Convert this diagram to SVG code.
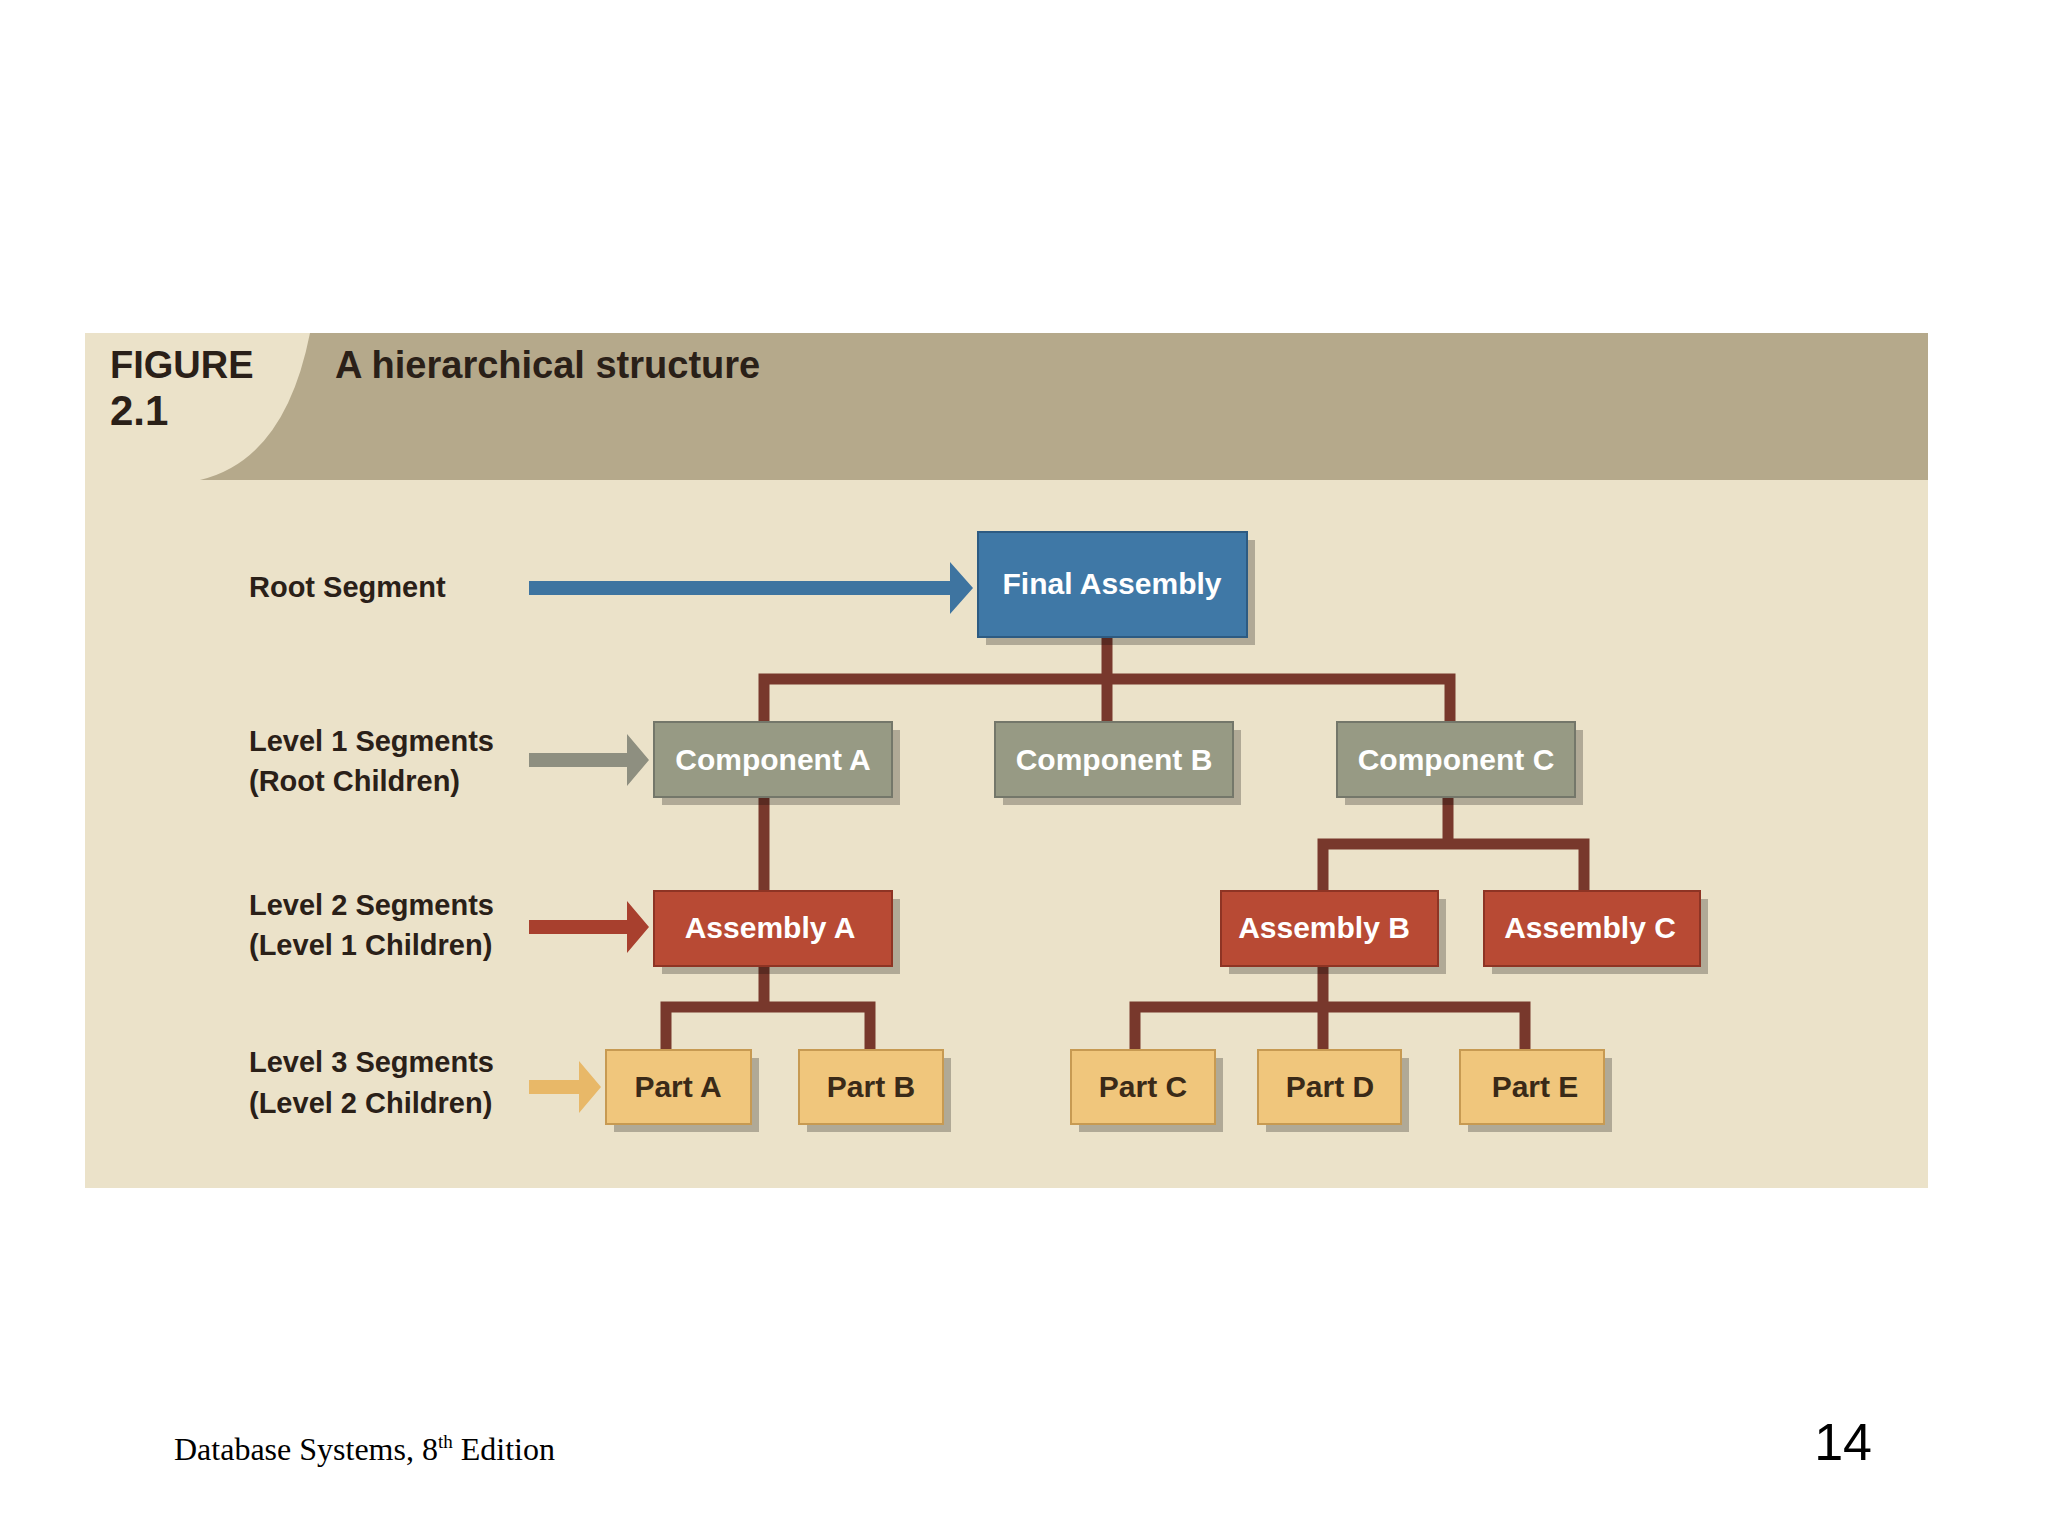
<svg xmlns="http://www.w3.org/2000/svg" width="2048" height="1536" viewBox="0 0 2048 1536">
<style>
.lbl{font-family:"Liberation Sans",Arial,sans-serif;font-size:29px;font-weight:bold;fill:#2a2018}
.bt{font-family:"Liberation Sans",Arial,sans-serif;font-size:30px;font-weight:bold;fill:#fff;text-anchor:middle}
.pt{font-family:"Liberation Sans",Arial,sans-serif;font-size:30px;font-weight:bold;fill:#3a2a18;text-anchor:middle}
.sh{fill:#000;opacity:0.25}
.con{stroke:#78382c;stroke-width:11;fill:none;stroke-linejoin:miter}
</style>
<rect width="2048" height="1536" fill="#fff"/>
<rect x="85" y="333" width="1843" height="855" fill="#ebe2c9"/>
<path d="M310 333 H1928 V480 H200 Q285 460 310 333 Z" fill="#b5a98b"/>
<text x="110" y="378" font-family="Liberation Sans,Arial,sans-serif" font-size="38" font-weight="bold" fill="#2a2018">FIGURE</text>
<text x="110" y="425" font-family="Liberation Sans,Arial,sans-serif" font-size="42" font-weight="bold" fill="#2a2018">2.1</text>
<text x="335" y="378" font-family="Liberation Sans,Arial,sans-serif" font-size="38" font-weight="bold" fill="#2a2018">A hierarchical structure</text>

<g id="labels">
<text class="lbl" x="249" y="597">Root Segment</text>
<text class="lbl" x="249" y="751">Level 1 Segments</text>
<text class="lbl" x="249" y="791">(Root Children)</text>
<text class="lbl" x="249" y="915">Level 2 Segments</text>
<text class="lbl" x="249" y="955">(Level 1 Children)</text>
<text class="lbl" x="249" y="1072">Level 3 Segments</text>
<text class="lbl" x="249" y="1113">(Level 2 Children)</text>
</g>

<g id="level-arrows">
<path d="M529 581 H950 V562 L973 588 L950 614 V595 H529 Z" fill="#3e74a0"/>
<path d="M529 753 H627 V734 L649 760 L627 786 V767 H529 Z" fill="#8e8f80"/>
<path d="M529 920 H627 V901 L649 927 L627 953 V934 H529 Z" fill="#a8402e"/>
<path d="M529 1080 H579 V1061 L601 1087 L579 1113 V1094 H529 Z" fill="#e8b868"/>
</g>

<g id="connectors">
<path class="con" d="M1107 637 V679 M764 722 V679 H1450 V722 M1107 679 V722"/>
<path class="con" d="M764 797 V891"/>
<path class="con" d="M1448 797 V844 M1323 891 V844 H1584 V891"/>
<path class="con" d="M764 966 V1007 M666 1050 V1007 H870 V1050"/>
<path class="con" d="M1323 966 V1050 M1135 1050 V1007 H1525 V1050"/>
</g>

<g id="final-assembly"><rect class="sh" x="986" y="540" width="269" height="105"/><rect x="978" y="532" width="269" height="105" fill="#3f78a6" stroke="#2d5b82" stroke-width="2"/><text class="bt" x="1112" y="594">Final Assembly</text></g>

<g id="component-a"><rect class="sh" x="662" y="730" width="238" height="75"/><rect x="654" y="722" width="238" height="75" fill="#979a84" stroke="#74776a" stroke-width="2"/><text class="bt" x="773" y="770">Component A</text></g>
<g id="component-b"><rect class="sh" x="1003" y="730" width="238" height="75"/><rect x="995" y="722" width="238" height="75" fill="#979a84" stroke="#74776a" stroke-width="2"/><text class="bt" x="1114" y="770">Component B</text></g>
<g id="component-c"><rect class="sh" x="1345" y="730" width="238" height="75"/><rect x="1337" y="722" width="238" height="75" fill="#979a84" stroke="#74776a" stroke-width="2"/><text class="bt" x="1456" y="770">Component C</text></g>

<g id="assembly-a"><rect class="sh" x="662" y="899" width="238" height="75"/><rect x="654" y="891" width="238" height="75" fill="#b84a34" stroke="#8e3424" stroke-width="2"/><text class="bt" x="770" y="938">Assembly A</text></g>
<g id="assembly-b"><rect class="sh" x="1229" y="899" width="217" height="75"/><rect x="1221" y="891" width="217" height="75" fill="#b84a34" stroke="#8e3424" stroke-width="2"/><text class="bt" x="1324" y="938">Assembly B</text></g>
<g id="assembly-c"><rect class="sh" x="1492" y="899" width="216" height="75"/><rect x="1484" y="891" width="216" height="75" fill="#b84a34" stroke="#8e3424" stroke-width="2"/><text class="bt" x="1590" y="938">Assembly C</text></g>

<g id="part-a"><rect class="sh" x="614" y="1058" width="145" height="74"/><rect x="606" y="1050" width="145" height="74" fill="#f0c67c" stroke="#c79a52" stroke-width="2"/><text class="pt" x="678" y="1097">Part A</text></g>
<g id="part-b"><rect class="sh" x="807" y="1058" width="144" height="74"/><rect x="799" y="1050" width="144" height="74" fill="#f0c67c" stroke="#c79a52" stroke-width="2"/><text class="pt" x="871" y="1097">Part B</text></g>
<g id="part-c"><rect class="sh" x="1079" y="1058" width="144" height="74"/><rect x="1071" y="1050" width="144" height="74" fill="#f0c67c" stroke="#c79a52" stroke-width="2"/><text class="pt" x="1143" y="1097">Part C</text></g>
<g id="part-d"><rect class="sh" x="1266" y="1058" width="143" height="74"/><rect x="1258" y="1050" width="143" height="74" fill="#f0c67c" stroke="#c79a52" stroke-width="2"/><text class="pt" x="1330" y="1097">Part D</text></g>
<g id="part-e"><rect class="sh" x="1468" y="1058" width="144" height="74"/><rect x="1460" y="1050" width="144" height="74" fill="#f0c67c" stroke="#c79a52" stroke-width="2"/><text class="pt" x="1535" y="1097">Part E</text></g>

<text x="174" y="1460" font-family="Liberation Serif,Times New Roman,serif" font-size="32" fill="#000">Database Systems, 8<tspan font-size="19" dy="-12">th</tspan><tspan dy="12"> Edition</tspan></text>
<text x="1872" y="1460" font-family="Liberation Sans,Arial,sans-serif" font-size="52" fill="#000" text-anchor="end">14</text>
</svg>
